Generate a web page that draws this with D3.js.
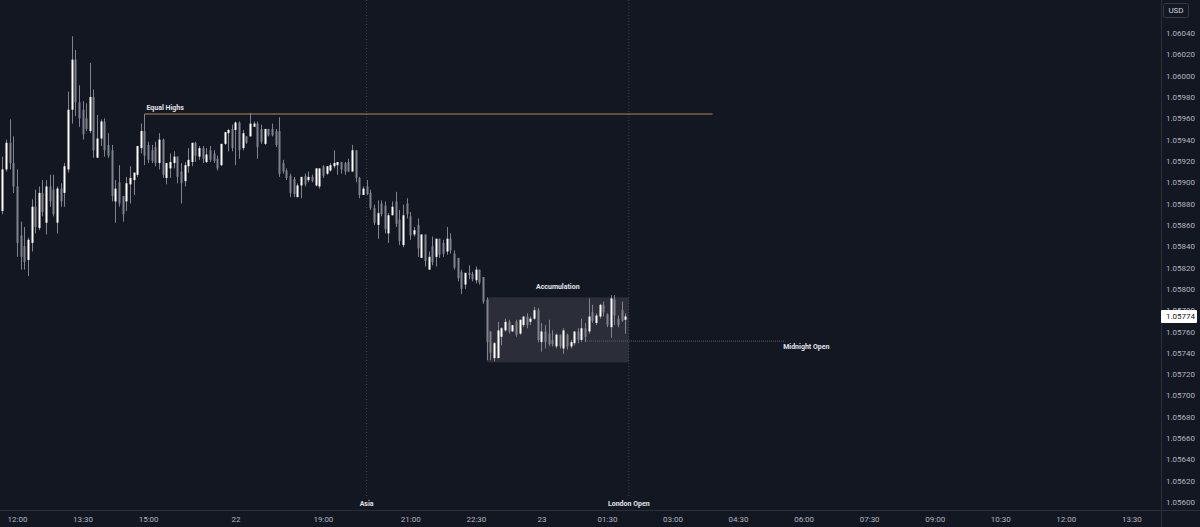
<!DOCTYPE html>
<html><head><meta charset="utf-8">
<script src="https://cdnjs.cloudflare.com/ajax/libs/d3/7.8.5/d3.min.js"></script>
<style>html,body{margin:0;padding:0;background:#131722;overflow:hidden}svg{display:block}</style>
</head><body><svg id="c" width="1200" height="527"></svg>
<script>
// ---- data (EURUSD 5-minute candles, first bar at 11:40) ----
const firstBarMinute = -20;   // minutes relative to 12:00
const barMinutes = 5;
const open = [
1.05873,1.05912,1.05937,1.05918,1.05896,1.05850,1.05840,1.05827,1.05843,1.05877,
1.05857,1.05890,1.05862,1.05896,1.05893,1.05862,1.05894,1.05890,1.05912,1.05968,
1.06015,1.05975,1.05968,1.05960,1.05948,1.05980,1.05923,1.05941,1.05957,1.05935,
1.05930,1.05882,1.05900,1.05887,1.05882,1.05898,1.05902,1.05907,1.05932,1.05948,
1.05935,1.05930,1.05933,1.05918,1.05940,1.05904,1.05913,1.05918,1.05924,1.05910,
1.05901,1.05915,1.05919,1.05937,1.05924,1.05932,1.05919,1.05930,1.05927,1.05922,
1.05916,1.05936,1.05946,1.05950,1.05949,1.05956,1.05932,1.05943,1.05943,1.05952,
1.05955,1.05950,1.05936,1.05950,1.05950,1.05948,1.05948,1.05918,1.05911,1.05906,
1.05903,1.05886,1.05897,1.05906,1.05902,1.05905,1.05897,1.05896,1.05915,1.05908,
1.05911,1.05915,1.05916,1.05919,1.05918,1.05919,1.05910,1.05930,1.05904,1.05888,
1.05896,1.05890,1.05876,1.05860,1.05880,1.05878,1.05852,1.05869,1.05882,1.05865,
1.05841,1.05880,1.05868,1.05851,1.05860,1.05829,1.05851,1.05818,1.05840,1.05830,
1.05847,1.05843,1.05835,1.05847,1.05833,1.05829,1.05816,1.05804,1.05815,1.05814,
1.05808,1.05818,1.05811,1.05790,1.05760,1.05735,1.05735,1.05755,1.05761,1.05769,
1.05760,1.05769,1.05758,1.05766,1.05774,1.05769,1.05772,1.05780,1.05750,1.05760,
1.05758,1.05752,1.05746,1.05757,1.05744,1.05757,1.05746,1.05749,1.05760,1.05752,
1.05763,1.05760,1.05778,1.05768,1.05774,1.05785,1.05776,1.05764,1.05790,1.05772,
1.05780,1.05771];
const high = [
1.05924,1.05940,1.05959,1.05943,1.05912,1.05863,1.05858,1.05848,1.05884,1.05893,
1.05896,1.05902,1.05902,1.05907,1.05907,1.05896,1.05899,1.05918,1.05985,1.06037,
1.06024,1.05991,1.05976,1.05974,1.06012,1.05987,1.05963,1.05959,1.05960,1.05946,
1.05935,1.05902,1.05916,1.05887,1.05905,1.05915,1.05909,1.05934,1.05955,1.05964,
1.05938,1.05935,1.05938,1.05946,1.05941,1.05918,1.05927,1.05929,1.05924,1.05918,
1.05919,1.05932,1.05937,1.05938,1.05934,1.05934,1.05932,1.05934,1.05930,1.05925,
1.05936,1.05947,1.05950,1.05954,1.05957,1.05957,1.05949,1.05943,1.05965,1.05957,
1.05957,1.05954,1.05950,1.05950,1.05955,1.05950,1.05961,1.05921,1.05913,1.05908,
1.05905,1.05899,1.05905,1.05908,1.05910,1.05907,1.05913,1.05913,1.05916,1.05915,
1.05918,1.05930,1.05919,1.05919,1.05919,1.05922,1.05935,1.05930,1.05905,1.05896,
1.05902,1.05893,1.05879,1.05883,1.05883,1.05882,1.05871,1.05882,1.05891,1.05874,
1.05879,1.05885,1.05872,1.05858,1.05866,1.05851,1.05851,1.05835,1.05849,1.05847,
1.05847,1.05846,1.05858,1.05852,1.05836,1.05829,1.05818,1.05815,1.05822,1.05816,
1.05821,1.05818,1.05811,1.05792,1.05760,1.05750,1.05769,1.05764,1.05772,1.05771,
1.05766,1.05771,1.05771,1.05774,1.05777,1.05774,1.05783,1.05782,1.05768,1.05766,
1.05771,1.05761,1.05758,1.05757,1.05763,1.05758,1.05752,1.05760,1.05763,1.05772,
1.05768,1.05791,1.05785,1.05777,1.05786,1.05788,1.05777,1.05794,1.05794,1.05775,
1.05788,1.05777];
const low = [
1.05870,1.05910,1.05912,1.05890,1.05830,1.05818,1.05818,1.05812,1.05835,1.05852,
1.05855,1.05868,1.05851,1.05877,1.05868,1.05852,1.05877,1.05877,1.05909,1.05955,
1.05962,1.05952,1.05940,1.05948,1.05946,1.05923,1.05923,1.05934,1.05924,1.05923,
1.05882,1.05862,1.05877,1.05863,1.05873,1.05880,1.05888,1.05905,1.05927,1.05916,
1.05918,1.05918,1.05915,1.05912,1.05904,1.05898,1.05904,1.05913,1.05899,1.05880,
1.05896,1.05909,1.05915,1.05919,1.05921,1.05918,1.05918,1.05919,1.05918,1.05911,
1.05915,1.05935,1.05929,1.05929,1.05916,1.05922,1.05930,1.05936,1.05943,1.05952,
1.05922,1.05936,1.05935,1.05943,1.05943,1.05933,1.05905,1.05908,1.05902,1.05886,
1.05886,1.05886,1.05885,1.05896,1.05900,1.05900,1.05896,1.05894,1.05904,1.05907,
1.05910,1.05913,1.05907,1.05908,1.05907,1.05910,1.05910,1.05900,1.05885,1.05888,
1.05888,1.05874,1.05860,1.05847,1.05868,1.05852,1.05843,1.05869,1.05858,1.05841,
1.05839,1.05866,1.05846,1.05849,1.05830,1.05829,1.05821,1.05818,1.05822,1.05821,
1.05829,1.05830,1.05832,1.05833,1.05818,1.05807,1.05795,1.05800,1.05809,1.05807,
1.05805,1.05804,1.05786,1.05733,1.05733,1.05732,1.05735,1.05747,1.05760,1.05758,
1.05760,1.05755,1.05757,1.05764,1.05763,1.05766,1.05771,1.05750,1.05741,1.05744,
1.05746,1.05746,1.05744,1.05744,1.05739,1.05743,1.05744,1.05747,1.05749,1.05750,
1.05750,1.05758,1.05768,1.05766,1.05772,1.05774,1.05764,1.05754,1.05766,1.05764,
1.05769,1.05758];
const close = [
1.05912,1.05937,1.05918,1.05896,1.05843,1.05830,1.05825,1.05846,1.05877,1.05858,
1.05890,1.05872,1.05896,1.05882,1.05870,1.05894,1.05882,1.05915,1.05968,1.06015,
1.05975,1.05960,1.05945,1.05950,1.05980,1.05930,1.05941,1.05957,1.05930,1.05925,
1.05887,1.05894,1.05880,1.05870,1.05899,1.05904,1.05909,1.05934,1.05948,1.05925,
1.05921,1.05920,1.05918,1.05940,1.05907,1.05918,1.05919,1.05924,1.05905,1.05899,
1.05916,1.05921,1.05937,1.05925,1.05932,1.05922,1.05926,1.05921,1.05920,1.05913,
1.05936,1.05947,1.05949,1.05932,1.05956,1.05930,1.05946,1.05937,1.05955,1.05955,
1.05933,1.05938,1.05950,1.05944,1.05944,1.05935,1.05908,1.05910,1.05904,1.05890,
1.05889,1.05897,1.05905,1.05898,1.05905,1.05901,1.05913,1.05913,1.05906,1.05915,
1.05916,1.05918,1.05919,1.05912,1.05910,1.05910,1.05930,1.05904,1.05888,1.05894,
1.05889,1.05876,1.05862,1.05871,1.05870,1.05856,1.05869,1.05877,1.05861,1.05845,
1.05869,1.05870,1.05850,1.05855,1.05838,1.05851,1.05826,1.05830,1.05825,1.05847,
1.05832,1.05833,1.05847,1.05836,1.05820,1.05810,1.05800,1.05815,1.05813,1.05809,
1.05818,1.05806,1.05788,1.05750,1.05740,1.05749,1.05761,1.05763,1.05769,1.05760,
1.05766,1.05757,1.05771,1.05774,1.05766,1.05772,1.05780,1.05752,1.05760,1.05750,
1.05748,1.05748,1.05757,1.05746,1.05761,1.05746,1.05750,1.05760,1.05752,1.05763,
1.05755,1.05774,1.05770,1.05775,1.05785,1.05778,1.05766,1.05791,1.05775,1.05766,
1.05770,1.05774];
const lastPrice = 1.05774;

const xTickMinutes = [0,90,180,300,420,540,630,720,810,900,990,1080,1170,1260,1350,1440,1530];
const xTickLabels = ["12:00","13:30","15:00","22","19:00","21:00","22:30","23","01:30","03:00","04:30","06:00","07:30","09:00","10:30","12:00","13:30"];
const yTickValues = [1.0560,1.0562,1.0564,1.0566,1.0568,1.0570,1.0572,1.0574,1.0576,1.0578,1.0580,1.0582,1.0584,1.0586,1.0588,1.0590,1.0592,1.0594,1.0596,1.0598,1.0600,1.0602,1.0604];

const equalHighs = {price: 1.05964, from: 175, to: 955, label: "Equal Highs"};
const accumulation = {top: 1.05792, bottom: 1.05731, from: 645, to: 840, label: "Accumulation"};
const midnightOpen = {price: 1.05751, from: 780, to: 1055, label: "Midnight Open"};
const sessions = [{minute: 480, label: "Asia"}, {minute: 840, label: "London Open"}];

// ---- chart ----
const W = 1200, H = 527, axisX = 1161, axisY = 510;
const svg = d3.select("#c");
const x = d3.scaleLinear().domain([0, 1530]).range([17, 1131.35]);
const y = d3.scaleLinear().domain([1.0560, 1.0604]).range([502, 33]);
const font = "Roboto, 'Liberation Sans', sans-serif";

svg.append("rect").attr("width", W).attr("height", H).attr("fill", "#131722");
svg.append("clipPath").attr("id", "plot").append("rect").attr("width", axisX).attr("height", axisY);
const g = svg.append("g").attr("clip-path", "url(#plot)");

// session lines
g.selectAll("line.sess").data(sessions).join("line")
  .attr("x1", d => x(d.minute)).attr("x2", d => x(d.minute))
  .attr("y1", 0).attr("y2", 497)
  .attr("stroke", "#3b3f4b").attr("stroke-width", 1).attr("stroke-dasharray", "1,2");

// accumulation box
g.append("rect")
  .attr("x", x(accumulation.from)).attr("y", y(accumulation.top))
  .attr("width", x(accumulation.to) - x(accumulation.from))
  .attr("height", y(accumulation.bottom) - y(accumulation.top))
  .attr("fill", "rgba(255,255,255,0.10)");

// midnight open
g.append("line")
  .attr("x1", x(midnightOpen.from)).attr("x2", x(midnightOpen.to))
  .attr("y1", y(midnightOpen.price)).attr("y2", y(midnightOpen.price))
  .attr("stroke", "#5d606b").attr("stroke-width", 1).attr("stroke-dasharray", "1,1");

// equal highs
g.append("line")
  .attr("x1", x(equalHighs.from)).attr("x2", x(equalHighs.to))
  .attr("y1", y(equalHighs.price)).attr("y2", y(equalHighs.price))
  .attr("stroke", "#b58a4e").attr("stroke-width", 1.2);

// candles
const idx = d3.range(open.length);
const bx = i => x(firstBarMinute + i * barMinutes);
const grey = "#80838d";
g.selectAll("line.wick").data(idx).join("line")
  .attr("x1", i => Math.round(bx(i)) + 0.5).attr("x2", i => Math.round(bx(i)) + 0.5)
  .attr("y1", i => y(high[i])).attr("y2", i => y(low[i]))
  .attr("stroke", grey).attr("stroke-width", 1);
g.selectAll("rect.body").data(idx).join("rect")
  .attr("x", i => Math.round(bx(i)) - 0.5).attr("width", 2)
  .attr("y", i => y(Math.max(open[i], close[i])))
  .attr("height", i => Math.max(1, Math.abs(y(open[i]) - y(close[i]))))
  .attr("fill", i => close[i] >= open[i] ? "#ffffff" : grey);

// annotation texts
const ann = svg.append("g").attr("font-family", font).attr("font-size", 7).attr("font-weight", "bold").attr("fill", "#e1e3ea");
ann.append("text").attr("x", x(equalHighs.from) + 2).attr("y", y(equalHighs.price) - 4).text(equalHighs.label);
ann.append("text").attr("x", (x(accumulation.from) + x(accumulation.to)) / 2).attr("y", y(accumulation.top) - 8)
  .attr("text-anchor", "middle").text(accumulation.label);
ann.append("text").attr("x", x(midnightOpen.to) + 44).attr("y", y(midnightOpen.price) + 8)
  .attr("text-anchor", "end").text(midnightOpen.label);
ann.selectAll("text.s").data(sessions).join("text")
  .attr("x", d => x(d.minute)).attr("y", 506).attr("text-anchor", "middle").text(d => d.label);

// axes separators
svg.append("line").attr("x1", 0).attr("x2", W).attr("y1", axisY + 0.5).attr("y2", axisY + 0.5).attr("stroke", "#2a2e39");
svg.append("line").attr("x1", axisX + 0.5).attr("x2", axisX + 0.5).attr("y1", 0).attr("y2", H).attr("stroke", "#2a2e39");

// x axis
const xa = svg.append("g").attr("transform", `translate(0,${axisY})`)
  .call(d3.axisBottom(x).tickValues(xTickMinutes).tickFormat((d, i) => xTickLabels[i]).tickSize(0).tickPadding(6));
xa.select(".domain").remove();
xa.selectAll("text").attr("fill", "#b2b5be").attr("font-size", 8).attr("font-family", font);

// y axis
const ya = svg.append("g").attr("transform", `translate(${axisX},0)`)
  .call(d3.axisRight(y).tickValues(yTickValues).tickFormat(d3.format(".5f")).tickSize(0).tickPadding(5));
ya.select(".domain").remove();
ya.selectAll("text").attr("fill", "#b2b5be").attr("font-size", 8).attr("font-family", font);

// last price label
const ly = y(lastPrice);
svg.append("rect").attr("x", axisX).attr("y", ly - 6.5).attr("width", 36).attr("height", 13).attr("fill", "#ffffff").attr("rx", 1);
svg.append("text").attr("x", axisX + 5).attr("y", ly).attr("dy", "0.35em").attr("font-size", 8)
  .attr("font-family", font).attr("fill", "#131722").text(d3.format(".5f")(lastPrice));

// currency box
svg.append("rect").attr("x", 1163.5).attr("y", 3.5).attr("width", 25).attr("height", 14)
  .attr("fill", "none").attr("stroke", "#363a45").attr("rx", 2);
svg.append("text").attr("x", 1176).attr("y", 10.5).attr("dy", "0.35em").attr("text-anchor", "middle")
  .attr("font-size", 8).attr("font-family", font).attr("fill", "#d1d4dc").text("USD");
</script></body></html>
